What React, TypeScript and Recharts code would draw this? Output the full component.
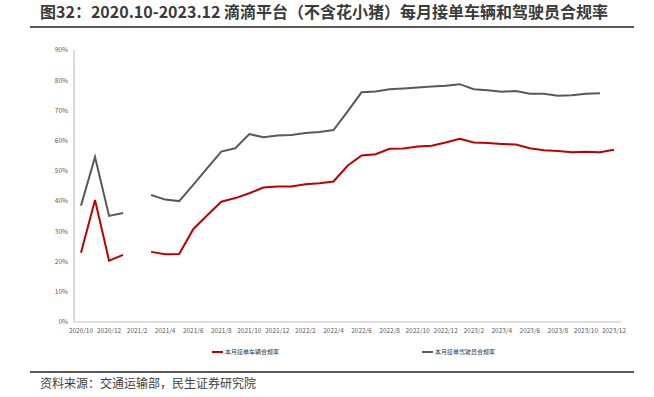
import { LineChart, Line, XAxis, YAxis } from "recharts"

const months = [
  "2020/10", "2020/11", "2020/12",
  "2021/1", "2021/2", "2021/3", "2021/4", "2021/5", "2021/6", "2021/7", "2021/8", "2021/9", "2021/10", "2021/11", "2021/12",
  "2022/1", "2022/2", "2022/3", "2022/4", "2022/5", "2022/6", "2022/7", "2022/8", "2022/9", "2022/10", "2022/11", "2022/12",
  "2023/1", "2023/2", "2023/3", "2023/4", "2023/5", "2023/6", "2023/7", "2023/8", "2023/9", "2023/10", "2023/11", "2023/12",
]

// 本月接单车辆合规率 (%)
const vehicleRate = [
  22.9, 40.4, 20.3,
  22.2, null, 23.2, 22.4, 22.5, 30.7, 35.3, 39.8, 41.0, 42.6, 44.5, 44.8,
  44.8, 45.6, 45.9, 46.5, 51.7, 55.1, 55.5, 57.3, 57.4, 58.1, 58.3, 59.4,
  60.6, 59.4, 59.2, 58.9, 58.7, 57.5, 56.8, 56.6, 56.2, 56.3, 56.2, 57.0,
]

// 本月接单驾驶员合规率 (%)
const driverRate = [
  38.5, 54.6, 35.1,
  36.1, null, 42.0, 40.5, 40.0, 45.4, 50.9, 56.4, 57.5, 62.2, 61.1, 61.7,
  61.9, 62.5, 62.9, 63.5, 69.6, 76.0, 76.3, 77.0, 77.3, 77.6, 77.9, 78.2,
  78.7, 77.0, 76.7, 76.2, 76.4, 75.5, 75.5, 74.9, 75.0, 75.5, 75.7, null,
]

const yTicks = [0, 10, 20, 30, 40, 50, 60, 70, 80, 90]

const data = months.map((m, i) => ({ month: m, vehicle: vehicleRate[i], driver: driverRate[i] }))

const font = '"Noto Sans CJK SC", "Noto Sans", sans-serif'
const RED = "#C00000"
const GRAY = "#595959"

export default function App() {
  return (
    <div style={{ position: "absolute", left: 0, top: 0, width: 654, height: 397, background: "#fff", fontFamily: font }}>
      <div style={{ position: "absolute", left: 40, top: 0, fontSize: 16, fontWeight: 700, color: "#3a3a3a", lineHeight: "22px", whiteSpace: "nowrap" }}>
        图32：2020.10-2023.12 滴滴平台（不含花小猪）每月接单车辆和驾驶员合规率
      </div>
      <div style={{ position: "absolute", left: 30, top: 26, width: 604, height: 2, background: "#595959" }} />

      <div style={{ position: "absolute", left: 0, top: 0 }}>
        <LineChart width={654} height={397} data={data} margin={{ top: 50, right: 33, left: 0, bottom: 55 }}>
          <XAxis
            dataKey="month"
            interval={1}
            padding={{ left: 7, right: 7 }}
            tickLine={false}
            tickSize={0}
            tickMargin={6}
            height={20}
            axisLine={{ stroke: "#bfbfbf", strokeWidth: 1 }}
            tick={{ fontSize: 6.5, fill: "#595959", fontFamily: font }}
          />
          <YAxis
            width={74}
            domain={[0, 90]}
            ticks={yTicks}
            tickFormatter={(v) => `${v}%`}
            tickLine={false}
            tickSize={0}
            tickMargin={6}
            axisLine={{ stroke: "#d9d9d9", strokeWidth: 2 }}
            tick={{ fontSize: 6.5, fill: "#595959", fontFamily: font }}
          />
          <Line dataKey="vehicle" stroke={RED} strokeWidth={2} dot={false} isAnimationActive={false} />
          <Line dataKey="driver" stroke={GRAY} strokeWidth={2} dot={false} isAnimationActive={false} />
        </LineChart>
      </div>

      <div style={{ position: "absolute", left: 212, top: 347, display: "flex", alignItems: "center", fontSize: 6, color: "#333" }}>
        <span style={{ display: "inline-block", width: 11, height: 2, background: RED, marginRight: 2 }} />
        本月接单车辆合规率
      </div>
      <div style={{ position: "absolute", left: 422, top: 347, display: "flex", alignItems: "center", fontSize: 6, color: "#333" }}>
        <span style={{ display: "inline-block", width: 11, height: 2, background: GRAY, marginRight: 2 }} />
        本月接单驾驶员合规率
      </div>

      <div style={{ position: "absolute", left: 30, top: 371, width: 604, height: 2, background: "#595959" }} />
      <div style={{ position: "absolute", left: 40, top: 375, fontSize: 12, color: "#404040", lineHeight: "16px", whiteSpace: "nowrap" }}>
        资料来源：交通运输部，民生证券研究院
      </div>
    </div>
  )
}
